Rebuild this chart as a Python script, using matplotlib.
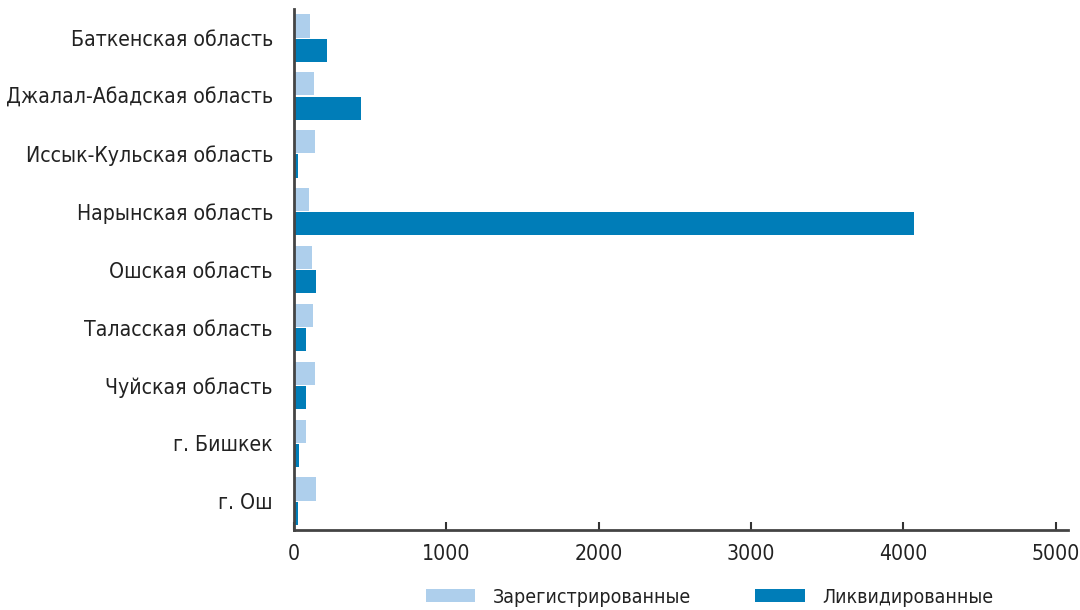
import matplotlib
matplotlib.use('Agg')
import matplotlib.pyplot as plt
import numpy as np

plt.rcParams['font.family'] = ['DejaVu Sans']
plt.rcParams['font.stretch'] = 'condensed'

regions = ['Баткенская область', 'Джалал-Абадская область', 'Иссык-Кульская область',
           'Нарынская область', 'Ошская область', 'Таласская область',
           'Чуйская область', 'г. Бишкек', 'г. Ош']
registered = [105, 130, 142, 103, 117, 124, 137, 78, 143]
liquidated = [215, 440, 26, 4070, 143, 78, 78, 33, 26]

fig = plt.figure(figsize=(10.8, 6.1), dpi=100)
ax = fig.add_axes([0.272, 0.131, 0.717, 0.854])

y = np.arange(len(regions))
h = 0.4
ax.barh(y - h / 2 - 0.01, registered, height=h, color='#aecfec', label='Зарегистрированные')
ax.barh(y + h / 2 + 0.01, liquidated, height=h, color='#007db8', label='Ликвидированные')

ax.set_ylim(len(regions) - 0.5, -0.5)
ax.set_xlim(0, 5080)
ax.set_yticks(y)
ax.set_yticklabels(regions, fontsize=15.2, color='#222222')
ax.set_xticks([0, 1000, 2000, 3000, 4000, 5000])
ax.tick_params(axis='x', direction='in', length=6, width=1.5, color='#333333',
               labelsize=15.2, labelcolor='#222222', pad=10)
ax.tick_params(axis='y', length=0, pad=15)

for s in ['top', 'right']:
    ax.spines[s].set_visible(False)
for s in ['left', 'bottom']:
    ax.spines[s].set_color('#444444')
    ax.spines[s].set_linewidth(2)

fig.legend(loc='center', bbox_to_anchor=(0.657, 0.021), ncol=2, frameon=False,
           fontsize=14, handlelength=2.55, handleheight=0.65, handletextpad=0.9,
           columnspacing=3.3, labelcolor='#222222')

fig.savefig('out.png', dpi=100)
